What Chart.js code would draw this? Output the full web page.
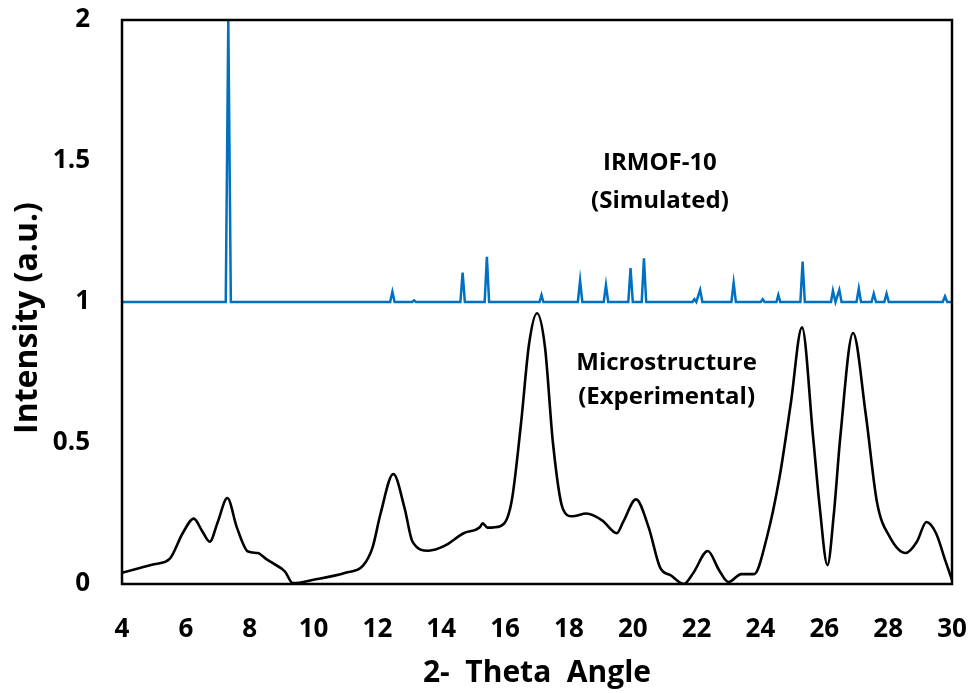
<!DOCTYPE html>
<html>
<head>
<meta charset="utf-8">
<script src="https://cdn.jsdelivr.net/npm/chart.js@4.4.1/dist/chart.umd.min.js"></script>
<style>
    html, body { margin: 0; padding: 0; background: #fff; }
    #wrap { width: 974px; height: 693px; }
</style>
</head>
<body>
<div id="wrap"><canvas id="graficoXRD"></canvas></div>
<script>
// Patron experimental (microestructura)
const expAngulo = [4.0, 4.5, 5.0, 5.5, 5.9, 6.25, 6.5, 6.75, 7.0, 7.3, 7.6, 7.95, 8.25, 8.5, 8.75, 9.1, 9.35,
    10.0, 11.0, 11.55, 11.85, 12.1, 12.5, 12.85, 13.1, 13.6, 14.1, 14.7, 15.2, 15.3, 15.45, 15.85, 16.2,
    16.5, 16.75, 17.0, 17.25, 17.5, 17.8, 18.1, 18.55, 19.05, 19.5, 19.7, 20.1, 20.5, 20.85, 21.2, 21.6,
    21.9, 22.35, 22.7, 23.0, 23.4, 23.8, 24.2, 24.6, 24.95, 25.3, 25.65, 25.85, 26.1, 26.3, 26.5, 26.9,
    27.3, 27.65, 28.05, 28.55, 28.9, 29.2, 29.5, 29.8, 30.0];
const expIntensidad = [0.04, 0.055, 0.07, 0.09, 0.18, 0.232, 0.19, 0.15, 0.22, 0.305, 0.2, 0.115, 0.11, 0.09,
    0.072, 0.045, 0.003, 0.015, 0.04, 0.065, 0.13, 0.25, 0.39, 0.27, 0.15, 0.118, 0.135, 0.18, 0.2, 0.215,
    0.2, 0.205, 0.29, 0.57, 0.85, 0.96, 0.84, 0.5, 0.27, 0.24, 0.25, 0.225, 0.18, 0.22, 0.30, 0.2, 0.06,
    0.03, 0.0, 0.04, 0.117, 0.05, 0.007, 0.035, 0.035, 0.165, 0.38, 0.64, 0.91, 0.52, 0.28, 0.067, 0.25,
    0.52, 0.89, 0.6, 0.29, 0.167, 0.11, 0.15, 0.22, 0.18, 0.08, 0.014];

// Patron simulado IRMOF-10 (desplazado +1)
const simAngulo = [4.0, 7.25, 7.33, 7.41, 12.4, 12.47, 12.54, 13.09, 13.15, 13.21, 14.6, 14.67, 14.74,
    15.36, 15.43, 15.5, 17.08, 17.14, 17.2, 18.28, 18.35, 18.42, 19.09, 19.16, 19.23, 19.86, 19.93, 20.0,
    20.28, 20.35, 20.42, 21.87, 21.93, 21.99, 22.11, 22.18, 23.09, 23.16, 23.23, 24.01, 24.07, 24.13, 24.5,
    24.56, 24.62, 25.25, 25.32, 25.39, 26.21, 26.27, 26.35, 26.47, 26.54, 27.01, 27.08, 27.15, 27.48, 27.55,
    27.62, 27.88, 27.95, 28.02, 29.71, 29.78, 29.85, 30.0];
const simIntensidad = [1.0, 1.0, 2.0, 1.0, 1.0, 1.036, 1.0, 1.0, 1.006, 1.0, 1.0, 1.104, 1.0,
    1.0, 1.16, 1.0, 1.0, 1.025, 1.0, 1.0, 1.076, 1.0, 1.0, 1.06, 1.0, 1.0, 1.12, 1.0,
    1.0, 1.155, 1.0, 1.0, 1.01, 1.0, 1.043, 1.0, 1.0, 1.068, 1.0, 1.0, 1.01, 1.0, 1.0,
    1.025, 1.0, 1.0, 1.143, 1.0, 1.0, 1.04, 1.0, 1.043, 1.0, 1.0, 1.048, 1.0, 1.0, 1.03,
    1.0, 1.0, 1.03, 1.0, 1.0, 1.02, 1.0, 1.0];

const ticksY = [0, 0.5, 1, 1.5, 2];

// Rotulos dentro del grafico
const rotulos = [
    { texto: 'IRMOF-10', x: 20.85, y: 1.493 },
    { texto: '(Simulated)', x: 20.85, y: 1.358 },
    { texto: 'Microstructure', x: 21.06, y: 0.784 },
    { texto: '(Experimental)', x: 21.06, y: 0.663 }
];

const tituloY = 'Intensity (a.u.)';

const fuente = "'Open Sans', 'Liberation Sans', sans-serif";

const toPuntos = (xs, ys) => xs.map((x, i) => ({ x: x, y: ys[i] }));

const marcoYRotulos = {
    id: 'marcoYRotulos',
    afterDatasetsDraw(chart) {
        const { ctx, chartArea: a, scales } = chart;
        ctx.save();
        ctx.strokeStyle = '#000';
        ctx.lineWidth = 2.5;
        ctx.strokeRect(a.left, a.top, a.right - a.left, a.bottom - a.top);

        ctx.fillStyle = '#000';
        ctx.font = "bold 24px " + fuente;
        ctx.textAlign = 'center';
        ctx.textBaseline = 'middle';
        rotulos.forEach(r => {
            ctx.fillText(r.texto, scales.x.getPixelForValue(r.x), scales.y.getPixelForValue(r.y));
        });

        // titulo del eje Y, algo por debajo del centro del area
        ctx.font = "bold 32px " + fuente;
        ctx.translate(28, (a.top + a.bottom) / 2 + 16);
        ctx.rotate(-Math.PI / 2);
        ctx.fillText(tituloY, 0, 0);
        ctx.restore();
    }
};

const ctx = document.getElementById('graficoXRD').getContext('2d');

new Chart(ctx, {
    type: 'line',
    data: {
        datasets: [{
            label: 'IRMOF-10 (Simulated)',
            data: toPuntos(simAngulo, simIntensidad),
            borderColor: '#0070C0',
            borderWidth: 2.5,
            pointRadius: 0,
            tension: 0
        }, {
            label: 'Microstructure (Experimental)',
            data: toPuntos(expAngulo, expIntensidad),
            borderColor: '#000000',
            borderWidth: 2.6,
            pointRadius: 0,
            cubicInterpolationMode: 'monotone'
        }]
    },
    options: {
        responsive: true,
        maintainAspectRatio: false,
        animation: false,
        layout: {
            padding: { top: 20, right: 22, left: 0, bottom: 0 }
        },
        plugins: {
            legend: { display: false },
            tooltip: { enabled: false }
        },
        scales: {
            x: {
                type: 'linear',
                min: 4,
                max: 30,
                grid: { display: false, drawTicks: false },
                border: { display: false },
                ticks: {
                    stepSize: 2,
                    padding: 30,
                    color: '#000',
                    font: { family: fuente, size: 26, weight: 'bold' }
                },
                title: {
                    display: true,
                    text: '2-  Theta  Angle',
                    color: '#000',
                    font: { family: fuente, size: 30, weight: 'bold' },
                    padding: { top: 0, bottom: 2 }
                },
                afterFit(scale) {
                    scale.height = 109;
                    scale.paddingLeft = 0;
                    scale.paddingRight = 0;
                }
            },
            y: {
                min: 0,
                max: 2,
                grid: { display: false, drawTicks: false },
                border: { display: false },
                afterBuildTicks(scale) {
                    scale.ticks = ticksY.map(v => ({ value: v }));
                },
                ticks: {
                    padding: 32,
                    color: '#000',
                    font: { family: fuente, size: 26, weight: 'bold' },
                    callback: value => String(value)
                },
                afterFit(scale) {
                    scale.width = 122;
                    scale.paddingTop = 0;
                    scale.paddingBottom = 0;
                }
            }
        }
    },
    plugins: [marcoYRotulos]
});
</script>
</body>
</html>
